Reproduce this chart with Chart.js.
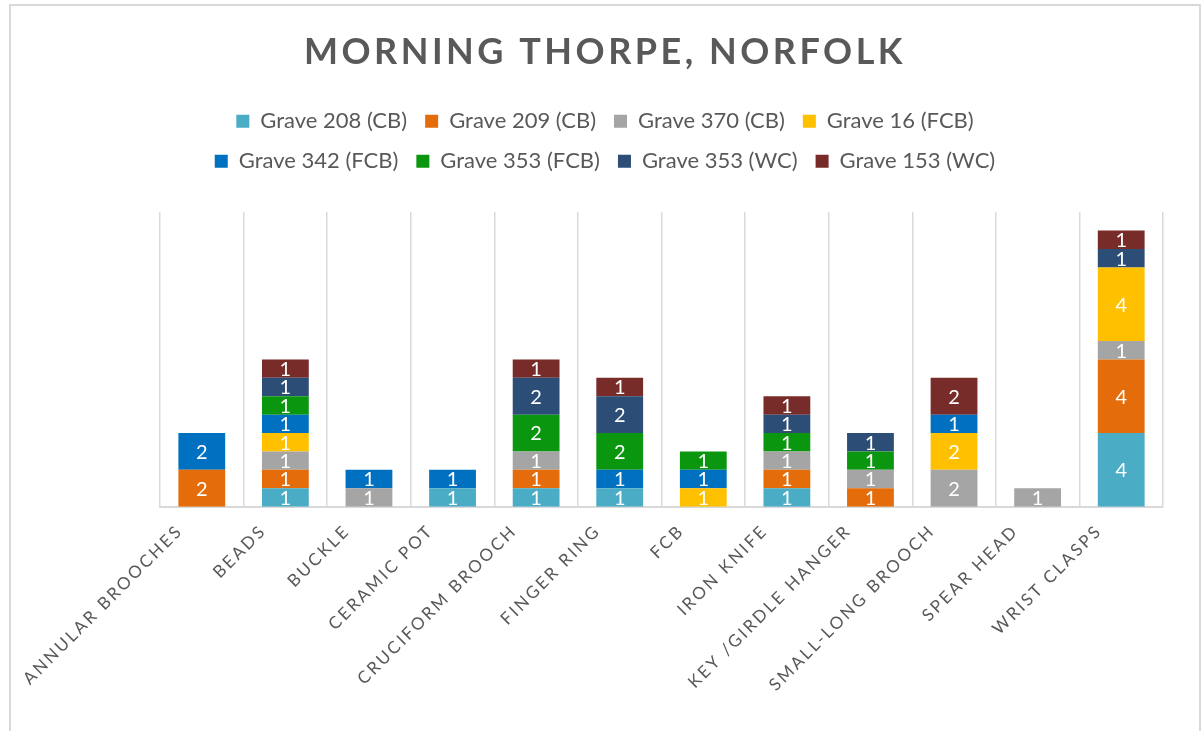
<!DOCTYPE html>
<html>
<head>
<meta charset="utf-8">
<title>Morning Thorpe, Norfolk</title>
<script src="https://cdn.jsdelivr.net/npm/chart.js@4/dist/chart.umd.min.js"></script>
<style>

  html, body{
    margin:0;
    padding:0;
    background:#ffffff;
    overflow:hidden;
  }

  #frame{
    position:absolute;
    left:9px;
    top:4px;
    width:1188px;
    height:740px;
    border:2px solid #d9d9d9;
  }

  #box{
    position:relative;
    width:1188px;
    height:725px;
  }

</style>
</head>
<body>

<div id="frame">
  <div id="box">
    <canvas id="finds"></canvas>
  </div>
</div>

<script>

// =====================================
// 📊 DATA
// =====================================

const categories = [
  "ANNULAR BROOCHES",
  "BEADS",
  "BUCKLE",
  "CERAMIC POT",
  "CRUCIFORM BROOCH",
  "FINGER RING",
  "FCB",
  "IRON KNIFE",
  "KEY /GIRDLE HANGER",
  "SMALL-LONG BROOCH",
  "SPEAR HEAD",
  "WRIST CLASPS"
];

const grave208cb  = [null, 1, null, 1, 1, 1, null, 1, null, null, null, 4];
const grave209cb  = [2, 1, null, null, 1, null, null, 1, 1, null, null, 4];
const grave370cb  = [null, 1, 1, null, 1, null, null, 1, 1, 2, 1, 1];
const grave16fcb  = [null, 1, null, null, null, null, 1, null, null, 2, null, 4];
const grave342fcb = [2, 1, 1, 1, null, 1, 1, null, null, 1, null, null];
const grave353fcb = [null, 1, null, null, 2, 2, 1, 1, 1, null, null, null];
const grave353wc  = [null, 1, null, null, 2, 2, null, 1, 1, null, null, 1];
const grave153wc  = [null, 1, null, null, 1, 1, null, 1, null, 2, null, 1];

const seriesNames = [
  "Grave 208 (CB)",
  "Grave 209 (CB)",
  "Grave 370 (CB)",
  "Grave 16 (FCB)",
  "Grave 342 (FCB)",
  "Grave 353 (FCB)",
  "Grave 353 (WC)",
  "Grave 153 (WC)"
];

const seriesColors = [
  "#4bacc6",
  "#e46c0a",
  "#a5a5a5",
  "#ffc000",
  "#0070c0",
  "#0a960e",
  "#2c4d75",
  "#772c2a"
];

const seriesValues = [
  grave208cb,
  grave209cb,
  grave370cb,
  grave16fcb,
  grave342fcb,
  grave353fcb,
  grave353wc,
  grave153wc
];

const yMax = 16;

const FONT = "Lato, 'Open Sans', sans-serif";
const TEXT = "#595959";

// legend wraps after four entries
const LEGEND_W = 860;


// =====================================
// 🔤 LETTER SPACING + LEGEND ROWS
// =====================================

const spacing = {

  id:"spacing",

  afterInit(chart){

    const ctx = chart.ctx;

    const legend = chart.legend;

    const legendUpdate = legend.update;

    legend.update = function(w, h, m){

      const old = ctx.letterSpacing;
      ctx.letterSpacing = "0px";
      legendUpdate.call(this, Math.min(w, LEGEND_W), h, m);
      ctx.letterSpacing = old;

      // gap under the legend
      this.height += 30;

    };

    const legendDraw = legend.draw;

    legend.draw = function(){

      const old = ctx.letterSpacing;
      const l = this.left;
      const r = this.right;
      const c = (l + r) / 2;

      ctx.letterSpacing = "0px";
      this.left = c - LEGEND_W / 2;
      this.right = c + LEGEND_W / 2;

      legendDraw.apply(this, arguments);

      this.left = l;
      this.right = r;
      ctx.letterSpacing = old;

    };

    // title: wider spacing
    const title = chart.titleBlock;

    const titleDraw = title.draw;

    title.draw = function(){

      const old = ctx.letterSpacing;
      ctx.letterSpacing = "3.5px";
      titleDraw.apply(this, arguments);
      ctx.letterSpacing = old;

    };

  },

  beforeLayout(chart){

    chart.ctx.letterSpacing = "2.5px";

  },

  beforeDraw(chart){

    chart.ctx.letterSpacing = "2.5px";

  }

};


// =====================================
// 🏷️ VALUES IN SEGMENTS
// =====================================

const segmentLabels = {

  id:"segmentLabels",

  afterDatasetsDraw(chart){

    const ctx = chart.ctx;

    ctx.save();

    ctx.letterSpacing = "0px";
    ctx.font = "20px " + FONT;
    ctx.fillStyle = "#ffffff";
    ctx.textAlign = "center";
    ctx.textBaseline = "middle";

    chart.data.datasets.forEach((ds, i) => {

      const meta = chart.getDatasetMeta(i);

      meta.data.forEach((bar, j) => {

        const v = ds.data[j];

        if(!v){
          return;
        }

        const p = bar.getProps(["x", "y", "base"], true);

        ctx.fillText(String(v), p.x, (p.y + p.base) / 2 + 1);

      });

    });

    ctx.restore();

  }

};


// =====================================
// 🚀 CHART
// =====================================

const datasets = seriesNames.map((name, i) => ({

  label:name,
  data:seriesValues[i],
  backgroundColor:seriesColors[i],
  borderWidth:0,
  categoryPercentage:0.8,
  barPercentage:0.7

}));

new Chart(
  document.getElementById("finds"),
  {

    type:"bar",

    data:{
      labels:categories,
      datasets
    },

    plugins:[spacing, segmentLabels],

    options:{

      responsive:true,
      maintainAspectRatio:false,
      animation:false,

      layout:{
        padding:{ top:0, left:0, right:0, bottom:22 }
      },

      plugins:{

        title:{
          display:true,
          text:"MORNING THORPE, NORFOLK",
          color:TEXT,
          font:{ family:FONT, size:36, weight:"bold" },
          padding:{ top:25, bottom:18 }
        },

        legend:{
          display:true,
          position:"top",
          labels:{
            color:TEXT,
            font:{ family:FONT, size:22 },
            boxWidth:13,
            boxHeight:13,
            padding:18
          }
        },

        tooltip:{
          enabled:false
        }

      },

      scales:{

        x:{
          stacked:true,
          grid:{
            display:true,
            offset:true,
            color:"#d9d9d9",
            lineWidth:1.5,
            drawTicks:false
          },
          border:{
            display:true,
            color:"#d9d9d9",
            width:2
          },
          ticks:{
            color:TEXT,
            font:{ family:FONT, size:17 },
            minRotation:45,
            maxRotation:45,
            autoSkip:false,
            padding:14,
            labelOffset:-22
          },
          afterFit(scale){
            scale.paddingLeft = 149;
            scale.paddingRight = 36;
          }
        },

        y:{
          stacked:true,
          display:false,
          min:0,
          max:yMax
        }

      }

    }

  }
);

</script>

</body>
</html>
